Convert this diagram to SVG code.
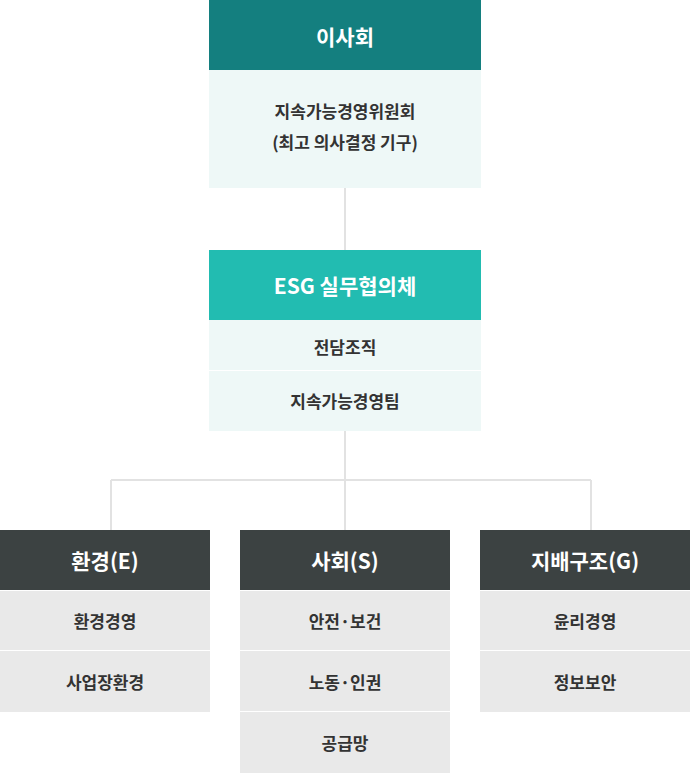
<svg xmlns="http://www.w3.org/2000/svg" width="690" height="773" viewBox="0 0 690 773">
<style>
text{font-family:"Noto Sans CJK KR","Noto Sans",sans-serif;font-weight:bold;text-anchor:middle;dominant-baseline:central}
.h{fill:#fff;font-size:21px}
.b{fill:#333;font-size:17px}
.lt{fill:#eef8f7}
.gr{fill:#e9e9e9}
.dk{fill:#3c4242}
.ln{stroke:#e2e2e2;stroke-width:2;fill:none}
</style>
<rect width="690" height="773" fill="#fff"/>
<g id="connectors">
<path class="ln" d="M345 188V250M345 430V480M111 480H591M111 480V530M345 480V530M591 480V530"/>
</g>
<g id="board">
<rect x="209" y="0" width="272" height="70" fill="#147f7f"/>
<text class="h" x="345" y="36">이사회</text>
<rect class="lt" x="209" y="70" width="272" height="118"/>
<text class="b" x="345" y="110" font-size="20">지속가능경영위원회</text>
<text class="b" x="345" y="141" font-size="20">(최고 의사결정 기구)</text>
</g>
<g id="esg">
<rect x="209" y="250" width="272" height="70" fill="#22bcb1"/>
<text class="h" x="345" y="285">ESG 실무협의체</text>
<rect class="lt" x="209" y="320" width="272" height="50"/>
<text class="b" x="345" y="346">전담조직</text>
<rect class="lt" x="209" y="371" width="272" height="60"/>
<text class="b" x="345" y="400">지속가능경영팀</text>
</g>
<g id="env">
<rect class="dk" x="0" y="530" width="210" height="60"/>
<text class="h" x="105" y="560">환경(E)</text>
<rect class="gr" x="0" y="591" width="210" height="59"/>
<text class="b" x="105" y="620">환경경영</text>
<rect class="gr" x="0" y="651" width="210" height="61"/>
<text class="b" x="105" y="681">사업장환경</text>
</g>
<g id="social">
<rect class="dk" x="240" y="530" width="210" height="60"/>
<text class="h" x="345" y="560">사회(S)</text>
<rect class="gr" x="240" y="591" width="210" height="59"/>
<text class="b" x="345" y="620">안전·보건</text>
<rect class="gr" x="240" y="651" width="210" height="60"/>
<text class="b" x="345" y="681">노동·인권</text>
<rect class="gr" x="240" y="712" width="210" height="61"/>
<text class="b" x="345" y="742">공급망</text>
</g>
<g id="gov">
<rect class="dk" x="480" y="530" width="210" height="60"/>
<text class="h" x="585" y="560">지배구조(G)</text>
<rect class="gr" x="480" y="591" width="210" height="59"/>
<text class="b" x="585" y="620">윤리경영</text>
<rect class="gr" x="480" y="651" width="210" height="61"/>
<text class="b" x="585" y="681">정보보안</text>
</g>
</svg>
